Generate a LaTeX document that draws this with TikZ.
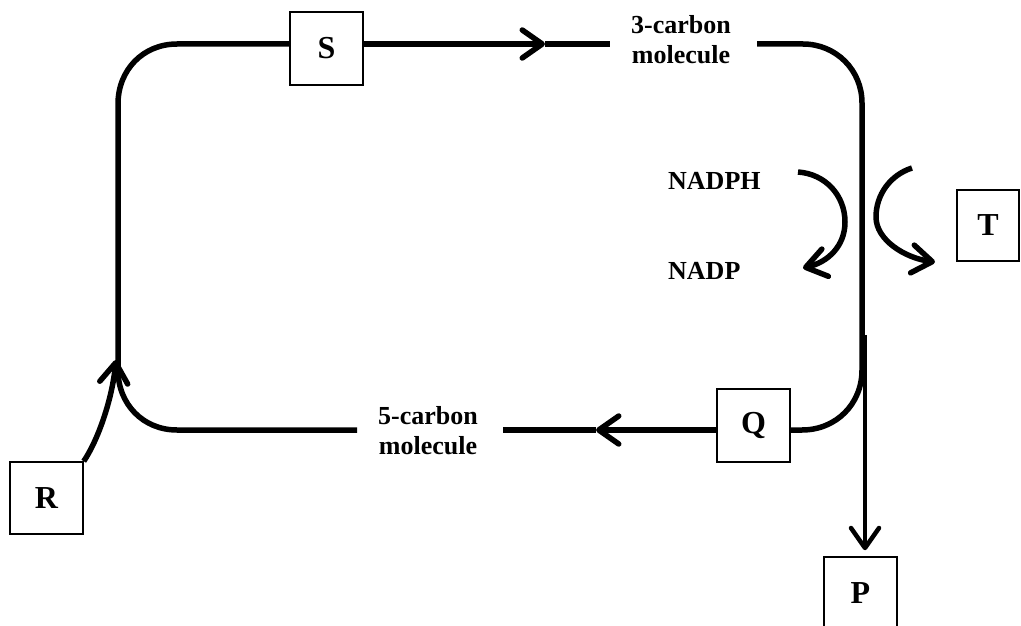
\documentclass[tikz,border=0pt]{standalone}
\usepackage{fontspec}
\setmainfont{Liberation Serif}
\usetikzlibrary{arrows.meta}
\begin{document}
\begin{tikzpicture}[x=1pt,y=-1pt,
  letterbox/.style={draw,line width=1.5pt,minimum width=73pt,minimum height=73pt,inner sep=0pt,font=\bfseries\fontsize{32}{36}\selectfont},
  lbl/.style={font=\bfseries\fontsize{26}{30}\selectfont,align=center,inner sep=0pt},
  flow/.style={line width=5.5pt},
  barb/.style={-{Straight Barb[length=20pt,width=28pt,round]}}]
\useasboundingbox (0,0) rectangle (1021,626);
\clip (0,0) rectangle (1021,626);
\node[letterbox] (S) at (326.5,48.5) {S};
\node[letterbox] (Q) at (753.5,425.5) {Q};
\node[letterbox,minimum height=72pt] (R) at (46.5,498) {R};
\node[letterbox,minimum width=62pt,minimum height=71pt] (T) at (988,225.5) {T};
\node[letterbox] (P) at (860.5,593.5) {P};
\node[lbl] (c3) at (681,40) {3-carbon\\molecule};
\node[lbl] (c5) at (428,431) {5-carbon\\molecule};
\node[lbl,anchor=base west] (nadph) at (668,189) {NADPH};
\node[lbl,anchor=base west] (nadp) at (668,279) {NADP};
% coordinates
\coordinate (a1) at (545,44);
\coordinate (a2) at (610,44);
\coordinate (b1) at (757,44);
\coordinate (b2) at (803,44);
\coordinate (b3) at (862,103);
\coordinate (b4) at (862,370);
\coordinate (b5) at (802,430);
\coordinate (d1) at (596,430);
\coordinate (d2) at (503,430);
\coordinate (e1) at (357,430);
\coordinate (e2) at (177,430);
\coordinate (e3) at (118,370);
\coordinate (e4) at (118,104);
\coordinate (e5) at (177,44);
\coordinate (rt) at (116,360);
\coordinate (ps) at (865,335);
\coordinate (n1) at (798,172);
\coordinate (n2) at (803,268);
\coordinate (t1) at (912,168);
\coordinate (t2) at (935,262);
% loop
\draw[flow,barb] (S.east |- a1) -- (a1);
\draw[flow] (a1) -- (a2);
\draw[flow] (b1) -- (b2) .. controls (836,44) and (862,70) .. (b3) -- (b4)
  .. controls (862,404) and (836,430) .. (b5) -- (Q.east |- b5);
\draw[flow,barb] (Q.west |- d1) -- (d1);
\draw[flow] (d1) -- (d2);
\draw[flow] (e1) -- (e2) .. controls (143,430) and (118,404) .. (e3) -- (e4)
  .. controls (118,70) and (143,44) .. (e5) -- (S.west |- e5);
% R arrow
\draw[flow,barb] (R.north east) .. controls (98,440) and (112,400) .. (rt);
% P arrow
\draw[line width=4.5pt,-{Straight Barb[length=20pt,width=28pt,round]},shorten >=6pt] (ps) -- (ps |- P.north);
% NADPH arc
\draw[flow,barb] (n1) .. controls (826,174) and (845,196) .. (845,222)
  .. controls (845,246) and (828,262) .. (n2);
% T arc
\draw[flow,barb] (t1) .. controls (890,175) and (876,195) .. (876,217)
  .. controls (876,240) and (905,258) .. (t2);
\end{tikzpicture}
\end{document}
